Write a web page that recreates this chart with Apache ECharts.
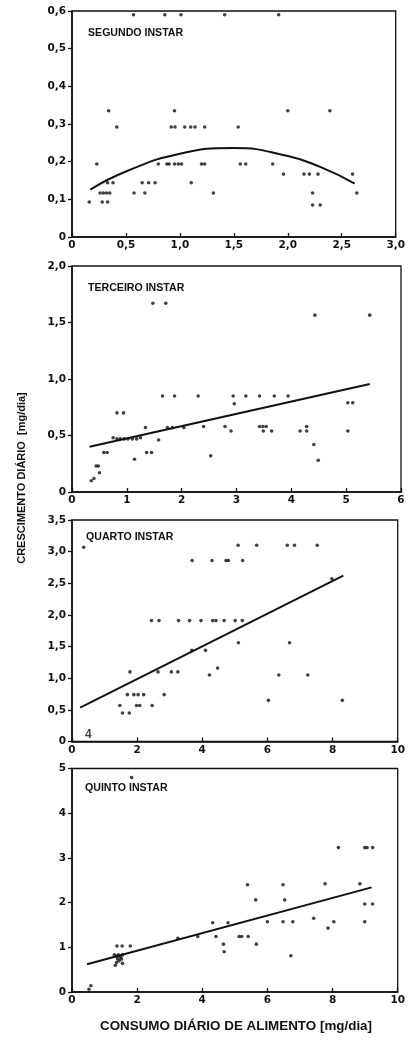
<!DOCTYPE html>
<html>
<head>
<meta charset="utf-8">
<script src="https://cdn.jsdelivr.net/npm/echarts@6/dist/echarts.min.js"></script>
<style>
html,body{margin:0;padding:0;background:#fff;}
#c{width:408px;height:1045px;}
</style>
</head>
<body>
<div id="c"></div>
<script>
// ---- Panel titles ----
const panelNames = ['SEGUNDO INSTAR', 'TERCEIRO INSTAR', 'QUARTO INSTAR', 'QUINTO INSTAR'];
const yTitle = 'CRESCIMENTO DIÁRIO  [mg/dia]';
const xTitle = 'CONSUMO DIÁRIO DE ALIMENTO [mg/dia]';

// ---- Tick labels ----
const xTicks1 = ['0', '0,5', '1,0', '1,5', '2,0', '2,5', '3,0'];
const yTicks1 = ['0', '0,1', '0,2', '0,3', '0,4', '0,5', '0,6'];
const xTicks2 = ['0', '1', '2', '3', '4', '5', '6'];
const yTicks2 = ['0', '0,5', '1,0', '1,5', '2,0'];
const xTicks3 = ['0', '2', '4', '6', '8', '10'];
const yTicks3 = ['0', '0,5', '1,0', '1,5', '2,0', '2,5', '3,0', '3,5'];
const xTicks4 = ['0', '2', '4', '6', '8', '10'];
const yTicks4 = ['0', '1', '2', '3', '4', '5'];

// ---- Segundo instar ----
const points1 = [
  [0.16,0.093],[0.23,0.194],[0.26,0.117],[0.29,0.117],[0.32,0.117],[0.28,0.093],[0.33,0.093],
  [0.33,0.144],[0.38,0.144],[0.34,0.335],[0.415,0.292],[0.35,0.117],
  [0.57,0.59],[0.575,0.117],[0.65,0.144],[0.675,0.117],[0.71,0.144],[0.77,0.144],[0.80,0.194],
  [0.86,0.59],[0.88,0.194],[0.90,0.194],[0.92,0.292],[0.955,0.292],[0.95,0.335],[0.95,0.194],
  [0.985,0.194],[1.015,0.194],[1.01,0.59],[1.045,0.292],[1.105,0.144],[1.10,0.292],[1.14,0.292],
  [1.20,0.194],[1.23,0.194],[1.23,0.292],[1.31,0.117],[1.415,0.59],[1.54,0.292],[1.56,0.194],
  [1.61,0.194],[1.86,0.194],[1.915,0.59],[1.96,0.167],[2.00,0.335],[2.15,0.167],[2.20,0.167],
  [2.23,0.117],[2.23,0.085],[2.28,0.167],[2.30,0.085],[2.39,0.335],[2.60,0.167],[2.64,0.117]
];
const fit1X = [0.17, 0.5, 1.0, 1.5, 2.0, 2.3, 2.62];
const fit1Y = [0.126, 0.174, 0.221, 0.236, 0.215, 0.186, 0.142];

// ---- Terceiro instar ----
const points2 = [
  [0.35,0.10],[0.40,0.12],[0.44,0.23],[0.48,0.23],[0.50,0.17],
  [0.58,0.35],[0.64,0.35],[0.82,0.70],[0.94,0.70],
  [0.75,0.48],[0.82,0.47],[0.88,0.47],[0.95,0.47],[1.02,0.47],[1.10,0.47],[1.18,0.47],[1.25,0.48],
  [1.14,0.29],[1.34,0.57],[1.36,0.35],[1.45,0.35],[1.475,1.67],[1.71,1.67],[1.58,0.46],
  [1.65,0.85],[1.74,0.57],[1.83,0.57],[1.87,0.85],[2.04,0.57],[2.30,0.85],[2.40,0.58],
  [2.53,0.32],[2.79,0.58],[2.90,0.54],[2.94,0.85],[2.96,0.78],[3.17,0.85],[3.42,0.85],
  [3.42,0.58],[3.48,0.58],[3.54,0.58],[3.49,0.54],[3.64,0.54],[3.69,0.85],[3.94,0.85],
  [4.16,0.54],[4.28,0.58],[4.28,0.54],[4.41,0.42],[4.43,1.565],[4.49,0.28],
  [5.03,0.54],[5.03,0.79],[5.12,0.79],[5.43,1.565]
];
const fit2X = [0.32, 5.43];
const fit2Y = [0.40, 0.956];

// ---- Quarto instar ----
const points3 = [
  [0.36,3.07],[5.10,3.10],[5.67,3.10],[6.61,3.10],[6.83,3.10],[7.53,3.10],
  [3.69,2.86],[4.30,2.86],[4.73,2.86],[4.80,2.86],[5.24,2.86],[7.98,2.57],
  [2.44,1.91],[2.67,1.91],[3.27,1.91],[3.61,1.91],[3.96,1.91],[4.32,1.91],[4.42,1.91],
  [4.67,1.91],[5.01,1.91],[5.23,1.91],
  [5.11,1.56],[6.68,1.56],[3.68,1.44],[4.10,1.44],
  [4.22,1.05],[4.47,1.16],[6.35,1.05],[7.24,1.05],
  [1.78,1.10],[2.64,1.10],[3.05,1.10],[3.25,1.10],
  [1.70,0.74],[1.90,0.74],[2.03,0.74],[2.20,0.74],[2.83,0.74],
  [1.47,0.57],[1.98,0.57],[2.08,0.57],[2.46,0.57],
  [1.55,0.45],[1.76,0.45],[6.03,0.65],[8.30,0.65]
];
const mark3 = [[0.50, 0.10]];
const fit3X = [0.25, 8.33];
const fit3Y = [0.535, 2.62];

// ---- Quinto instar ----
const points4 = [
  [1.83,4.80],[8.18,3.23],[8.99,3.23],[9.06,3.23],[9.23,3.23],
  [5.39,2.40],[6.48,2.40],[7.77,2.42],[8.84,2.42],
  [5.64,2.06],[6.53,2.06],[8.99,1.97],[9.23,1.97],
  [4.32,1.55],[4.79,1.55],[6.00,1.57],[6.48,1.57],[6.78,1.57],[7.42,1.65],[7.86,1.43],[8.04,1.57],[8.99,1.57],
  [3.25,1.20],[3.86,1.24],[4.42,1.24],[4.65,1.07],[4.67,0.90],[5.13,1.24],[5.21,1.24],[5.41,1.24],
  [5.66,1.07],[6.72,0.81],
  [1.38,1.03],[1.54,1.03],[1.79,1.03],[1.30,0.83],[1.36,0.80],[1.42,0.83],[1.48,0.78],[1.55,0.83],
  [1.40,0.74],[1.52,0.74],[1.33,0.60],[1.37,0.66],[1.55,0.64],[1.45,0.70],
  [0.52,0.06],[0.58,0.14]
];
const fit4X = [0.46, 9.20];
const fit4Y = [0.62, 2.34];

// ---- build ----
const ink = '#111';
const tickFont = 'DejaVu Sans';
const grids = [
  {left:72, top:11, width:330, height:226},
  {left:72, top:266, width:329, height:226},
  {left:72, top:520, width:328, height:221.5},
  {left:72, top:768.5, width:328, height:223.5}
];
const axes = [
  {x:[0,3,0.5,xTicks1], y:[0,0.6,0.1,yTicks1]},
  {x:[0,6,1,xTicks2], y:[0,2,0.5,yTicks2]},
  {x:[0,10,2,xTicks3], y:[0,3.5,0.5,yTicks3]},
  {x:[0,10,2,xTicks4], y:[0,5,1,yTicks4]}
];
function lab(arr, step){ return v => { const i = Math.round(v/step); return arr[i] !== undefined ? arr[i] : ''; }; }

const option = {
  animation:false,
  backgroundColor:'#fff',
  grid: grids.map(g => Object.assign({show:true, borderColor:ink, borderWidth:1.3, backgroundColor:'transparent'}, g)),
  xAxis: axes.map((a,i) => ({
    type:'value', gridIndex:i, min:a.x[0], max:a.x[1], interval:a.x[2],
    axisLine:{show:true, onZero:false, lineStyle:{color:ink, width:1.6}},
    axisTick:{show:true, inside:true, length:4, lineStyle:{color:ink, width:1.3}},
    splitLine:{show:false},
    axisLabel:{formatter:lab(a.x[3], a.x[2]), color:ink, fontFamily:tickFont, fontSize:10.5, fontWeight:'bold', margin:3}
  })),
  yAxis: axes.map((a,i) => ({
    type:'value', gridIndex:i, min:a.y[0], max:a.y[1], interval:a.y[2],
    axisLine:{show:true, onZero:false, lineStyle:{color:ink, width:1.6}},
    axisTick:{show:true, inside:false, length:4, lineStyle:{color:ink, width:1.3}},
    splitLine:{show:false},
    axisLabel:{formatter:lab(a.y[3], a.y[2]), color:ink, fontFamily:tickFont, fontSize:10.5, fontWeight:'bold', margin:6}
  })),
  series: [],
  graphic: []
};

const pts = [points1, points2, points3, points4];
const fits = [[fit1X,fit1Y,true],[fit2X,fit2Y,false],[fit3X,fit3Y,false],[fit4X,fit4Y,false]];
pts.forEach((p,i) => {
  option.series.push({type:'scatter', xAxisIndex:i, yAxisIndex:i, data:p, symbol:'circle', symbolSize:3.6,
    itemStyle:{color:ink}, silent:true});
  const f = fits[i];
  option.series.push({type:'line', xAxisIndex:i, yAxisIndex:i, data:f[0].map((x,k)=>[x,f[1][k]]),
    smooth:f[2], showSymbol:false, lineStyle:{color:ink, width:2}, silent:true});
});
option.series.push({type:'scatter', xAxisIndex:2, yAxisIndex:2, data:mark3, symbolSize:1,
  itemStyle:{color:ink}, label:{show:true, position:'inside', formatter:'4', color:ink, fontWeight:'bold', fontSize:12, fontFamily:'Liberation Sans'}});

const titlePos = [[88,33],[88,288],[86,537],[85,788]];
panelNames.forEach((n,i) => {
  option.graphic.push({type:'text', left:titlePos[i][0], top:titlePos[i][1]-5,
    style:{text:n, fill:ink, font:'bold 10.6px "Liberation Sans"'}});
});
option.graphic.push({type:'text', x:22, y:478, rotation:Math.PI/2,
  style:{text:yTitle, fill:ink, font:'bold 11px "Liberation Sans"', textAlign:'center', textVerticalAlign:'middle'}});
option.graphic.push({type:'text', x:236, y:1026,
  style:{text:xTitle, fill:ink, font:'bold 13.4px "Liberation Sans"', textAlign:'center', textVerticalAlign:'middle'}});

const chart = echarts.init(document.getElementById('c'), null, {renderer:'canvas'});
chart.setOption(option);
</script>
</body>
</html>
